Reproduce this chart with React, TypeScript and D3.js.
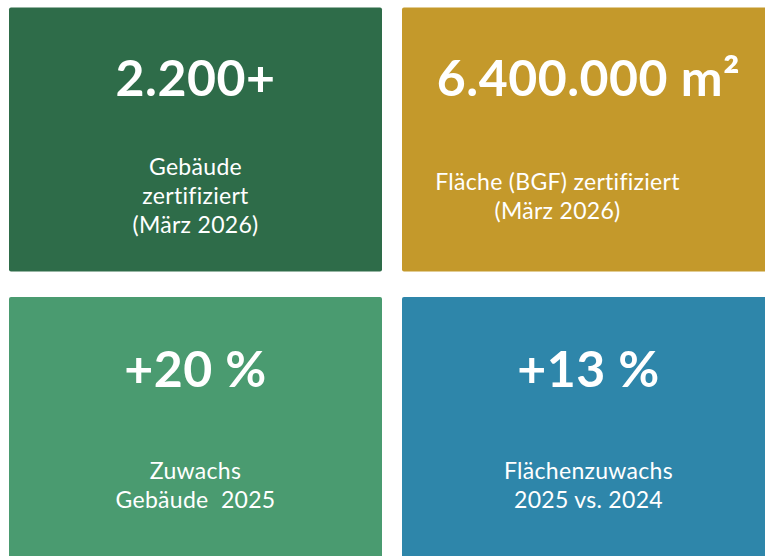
import React from "react";
import * as d3 from "d3";

const tileValues = ["2.200+", "6.400.000 m²", "+20 %", "+13 %"];
const tileLabels = [
  ["Gebäude", "zertifiziert", "(März 2026)"],
  ["Fläche (BGF) zertifiziert", "(März 2026)"],
  ["Zuwachs", "Gebäude  2025"],
  ["Flächenzuwachs", "2025 vs. 2024"],
];
const tileColors = ["#2E6C49", "#C4992B", "#4A9B70", "#2E86AA"];

const W = 765;
const H = 556;
const FONT = "Lato, 'Open Sans', sans-serif";
// layout-only horizontal nudge of the label block in each tile
const labelShift = [0, -31, 0, 0];

export default function App() {
  const col = d3.scaleBand<number>().domain([0, 1]).range([9, 775]).paddingInner(20 / 393).paddingOuter(0);
  const row = d3.scaleBand<number>().domain([0, 1]).range([7.5, 561]).paddingInner(25.5 / 289.5).paddingOuter(0);
  const bw = col.bandwidth();
  const bh = row.bandwidth();
  const lineH = 29;

  return (
    <svg
      width={W}
      height={H}
      style={{ position: "absolute", left: 0, top: 0, fontVariantLigatures: "none" }}
      fontFamily={FONT}
    >
      <rect width={W} height={H} fill="#ffffff" />
      {tileValues.map((v, i) => {
        const c = i % 2;
        const r = Math.floor(i / 2);
        const x = col(c)!;
        const y = row(r)!;
        const cx = x + bw / 2;
        const labels = tileLabels[i];
        const n = labels.length;
        return (
          <g key={i}>
            <rect x={x} y={y} width={bw} height={bh} rx={2} fill={tileColors[i]} />
            <text
              x={cx}
              y={y + 88 + r * 1.5}
              textAnchor="middle"
              fill="#fff"
              fontWeight={700}
              fontSize={50}
              letterSpacing={0.5}
              style={{ fontVariantLigatures: "none" }}
            >
              {v}
            </text>
            {labels.map((l, j) => (
              <text
                key={j}
                x={cx + labelShift[i]}
                y={y + 196.5 + (j - (n - 1) / 2) * lineH}
                textAnchor="middle"
                fill="#fff"
                fontSize={23}
                letterSpacing={0.3}
                style={{ whiteSpace: "pre", fontVariantLigatures: "none" }}
              >
                {l}
              </text>
            ))}
          </g>
        );
      })}
    </svg>
  );
}
